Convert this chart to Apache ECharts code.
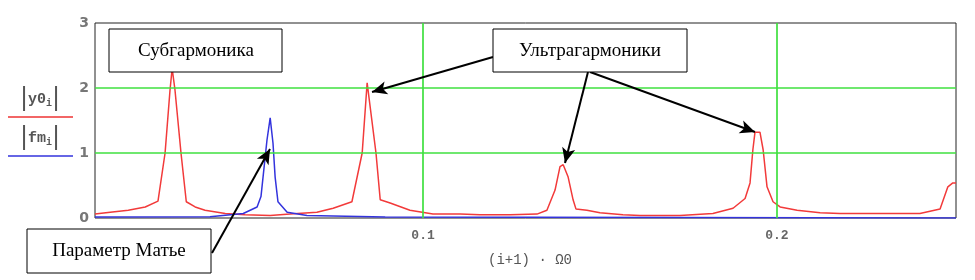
<!DOCTYPE html>
<html>
<head>
<meta charset="utf-8" />
<title></title>
<script type="text/javascript" src="https://cdn.jsdelivr.net/npm/echarts@6/dist/echarts.min.js"></script>
<style type="text/css">
  body { margin: 0; background: #fff; }
  #main { width: 975px; height: 280px; }
</style>
</head>
<body>
<div id="main"></div>
<script type="text/javascript">
// |y0_i| - red curve
var redX = [0.0073, 0.0116, 0.0167, 0.0215, 0.0251, 0.0271, 0.0285, 0.0291, 0.0299, 0.0316,
  0.0331, 0.0356, 0.0384, 0.0441, 0.0497, 0.0568, 0.0624, 0.0700, 0.0746, 0.0799,
  0.0828, 0.0842, 0.0867, 0.0879, 0.0907, 0.0963, 0.1028, 0.1105, 0.1161, 0.1246,
  0.1322, 0.1350, 0.1373, 0.1387, 0.1396, 0.1410, 0.1424, 0.1432, 0.1463, 0.1500,
  0.1565, 0.1613, 0.1726, 0.1819, 0.1876, 0.1910, 0.1924, 0.1932, 0.1938, 0.1952,
  0.1961, 0.1972, 0.1989, 0.2009, 0.2057, 0.2122, 0.2178, 0.2291, 0.2404, 0.2461,
  0.2483, 0.2497, 0.2506];
var redY = [0.06, 0.09, 0.12, 0.17, 0.26, 1.0, 1.97, 2.3, 1.97, 1.0,
  0.25, 0.17, 0.12, 0.07, 0.05, 0.04, 0.06, 0.09, 0.15, 0.25,
  1.0, 2.08, 1.0, 0.28, 0.23, 0.12, 0.06, 0.06, 0.05, 0.05,
  0.06, 0.12, 0.43, 0.79, 0.82, 0.63, 0.28, 0.14, 0.12, 0.08,
  0.05, 0.04, 0.04, 0.07, 0.15, 0.30, 0.54, 1.05, 1.32, 1.32,
  1.05, 0.48, 0.25, 0.17, 0.12, 0.08, 0.07, 0.07, 0.07, 0.14,
  0.48, 0.54, 0.54];

// |fm_i| - blue curve
var blueX = [0.0073, 0.0398, 0.0492, 0.0531, 0.0542, 0.0551, 0.0559, 0.0568, 0.0576, 0.0582,
  0.0590, 0.0616, 0.0672, 0.0893, 0.0894, 0.2506];
var blueY = [0.015, 0.02, 0.07, 0.17, 0.33, 0.79, 1.2, 1.54, 1.15, 0.63,
  0.25, 0.09, 0.04, 0.015, 0, 0];

var xTicks = [0.1, 0.2];
var yTicks = [0, 1, 2, 3];
var gridX = [0.1, 0.2];
var gridY = [1, 2];

function pairs(xs, ys) {
  var out = [];
  for (var i = 0; i < xs.length; i++) out.push([xs[i], ys[i]]);
  return out;
}

var gridLines = [];
for (var i = 0; i < gridX.length; i++) gridLines.push({ xAxis: gridX[i] });
for (var j = 0; j < gridY.length; j++) gridLines.push({ yAxis: gridY[j] });

// arrows from the label boxes (screen pixels)
var arrows = [
  [{ x: 493, y: 57 }, { x: 372, y: 92 }],
  [{ x: 588, y: 72 }, { x: 565, y: 163 }],
  [{ x: 590, y: 72 }, { x: 755, y: 132 }],
  [{ x: 212, y: 253 }, { x: 270, y: 149 }]
];

var myChart = echarts.init(document.getElementById('main'));
var option = {
  animation: false,
  grid: {
    left: 95, right: 19, top: 23, bottom: 62,
    show: true, borderColor: '#222', borderWidth: 1
  },
  xAxis: {
    type: 'value',
    min: 0.0073,
    max: 0.2506,
    axisLine: { show: false },
    axisTick: { show: false },
    splitLine: { show: false },
    axisLabel: {
      customValues: xTicks,
      color: '#666',
      fontFamily: 'Liberation Mono',
      fontWeight: 'bold',
      fontSize: 13,
      margin: 11
    }
  },
  yAxis: {
    type: 'value',
    min: 0,
    max: 3,
    interval: 1,
    axisLine: { show: false },
    axisTick: { show: false },
    splitLine: { show: false },
    axisLabel: {
      customValues: yTicks,
      color: '#777',
      fontFamily: 'DejaVu Sans',
      fontWeight: 'bold',
      fontSize: 14,
      margin: 6
    }
  },
  series: [
    {
      type: 'line',
      data: [],
      z: 1,
      markLine: {
        silent: true,
        symbol: 'none',
        label: { show: false },
        lineStyle: { color: '#3fe03f', width: 1.7, type: 'solid' },
        data: gridLines
      }
    },
    {
      name: 'y0',
      type: 'line',
      data: pairs(redX, redY),
      showSymbol: false,
      z: 3,
      lineStyle: { color: '#f23a3a', width: 1.5 }
    },
    {
      name: 'fm',
      type: 'line',
      data: pairs(blueX, blueY),
      showSymbol: false,
      z: 4,
      lineStyle: { color: '#3333dd', width: 1.5 }
    },
    {
      type: 'line',
      data: [],
      z: 6,
      markLine: {
        silent: true,
        symbol: ['none', 'arrow'],
        symbolSize: [10, 15],
        label: { show: false },
        lineStyle: { color: '#000', width: 2, type: 'solid' },
        itemStyle: { color: '#000' },
        data: arrows
      }
    }
  ],
  graphic: [
    // label boxes
    { type: 'rect', z: 100, shape: { x: 109, y: 29, width: 173, height: 43 },
      style: { fill: '#fff', stroke: '#000', lineWidth: 1 } },
    { type: 'text', z: 101, x: 196, y: 51,
      style: { text: 'Субгармоника', font: '19px "Liberation Serif"', fill: '#000', align: 'center', verticalAlign: 'middle' } },
    { type: 'rect', z: 100, shape: { x: 493, y: 29, width: 194, height: 43 },
      style: { fill: '#fff', stroke: '#000', lineWidth: 1 } },
    { type: 'text', z: 101, x: 590, y: 51,
      style: { text: 'Ультрагармоники', font: '19px "Liberation Serif"', fill: '#000', align: 'center', verticalAlign: 'middle' } },
    { type: 'rect', z: 100, shape: { x: 27, y: 229, width: 184, height: 44 },
      style: { fill: '#fff', stroke: '#000', lineWidth: 1 } },
    { type: 'text', z: 101, x: 119, y: 251,
      style: { text: 'Параметр Матье', font: '19px "Liberation Serif"', fill: '#000', align: 'center', verticalAlign: 'middle' } },
    // axis title
    { type: 'text', x: 530, y: 260,
      style: { text: '(i+1) · Ω0', font: '14px "Liberation Mono"', fill: '#555', align: 'center', verticalAlign: 'middle' } },
    // legend on the left
    { type: 'text', x: 40, y: 99,
      style: {
        text: '{b||}{m|y0}{s|i}{b||}', align: 'center', verticalAlign: 'middle',
        rich: {
          b: { fontFamily: 'DejaVu Sans', fontSize: 24, fill: '#555' },
          m: { fontFamily: 'Liberation Mono', fontWeight: 'bold', fontSize: 15, fill: '#555' },
          s: { fontFamily: 'Liberation Mono', fontWeight: 'bold', fontSize: 10, fill: '#555', padding: [8, 0, 0, 0] }
        }
      } },
    { type: 'line', shape: { x1: 8, y1: 117, x2: 73, y2: 117 }, style: { stroke: '#ee3333', lineWidth: 1.3 } },
    { type: 'text', x: 40, y: 138,
      style: {
        text: '{b||}{m|fm}{s|i}{b||}', align: 'center', verticalAlign: 'middle',
        rich: {
          b: { fontFamily: 'DejaVu Sans', fontSize: 24, fill: '#555' },
          m: { fontFamily: 'Liberation Mono', fontWeight: 'bold', fontSize: 15, fill: '#555' },
          s: { fontFamily: 'Liberation Mono', fontWeight: 'bold', fontSize: 10, fill: '#555', padding: [8, 0, 0, 0] }
        }
      } },
    { type: 'line', shape: { x1: 8, y1: 156, x2: 73, y2: 156 }, style: { stroke: '#3333dd', lineWidth: 1.3 } }
  ]
};
myChart.setOption(option);
</script>
</body>
</html>
